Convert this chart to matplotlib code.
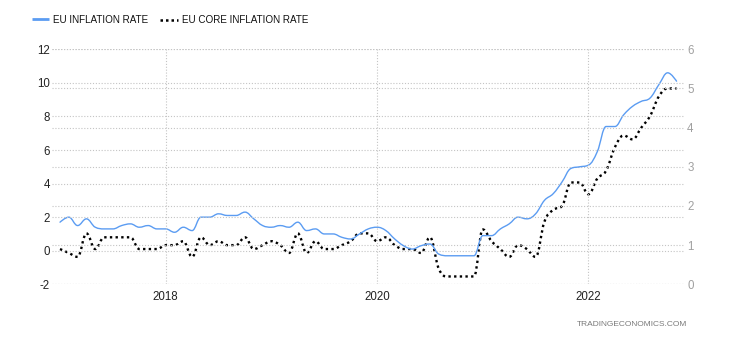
import numpy as np
import matplotlib
matplotlib.use("Agg")
import matplotlib.pyplot as plt
from matplotlib.path import Path
from matplotlib.patches import PathPatch
from matplotlib.lines import Line2D

# Monthly readings, January 2017 to November 2022 (annual rate, %)
start_year = 2017
inflation = [
    1.7, 2.0, 1.5, 1.9, 1.4, 1.3, 1.3, 1.5, 1.6, 1.4, 1.5, 1.3,
    1.3, 1.1, 1.4, 1.2, 2.0, 2.0, 2.2, 2.1, 2.1, 2.3, 1.9, 1.5,
    1.4, 1.5, 1.4, 1.7, 1.2, 1.3, 1.0, 1.0, 0.8, 0.7, 1.0, 1.3,
    1.4, 1.2, 0.7, 0.3, 0.1, 0.3, 0.4, -0.2, -0.3, -0.3, -0.3, -0.3,
    0.9, 0.9, 1.3, 1.6, 2.0, 1.9, 2.2, 3.0, 3.4, 4.1, 4.9, 5.0,
    5.1, 5.9, 7.4, 7.4, 8.1, 8.6, 8.9, 9.1, 9.9, 10.6, 10.1,
]
core_inflation = [
    0.9, 0.8, 0.7, 1.3, 0.9, 1.2, 1.2, 1.2, 1.2, 0.9, 0.9, 0.9,
    1.0, 1.0, 1.1, 0.7, 1.2, 1.0, 1.1, 1.0, 1.0, 1.2, 0.9, 1.0,
    1.1, 1.0, 0.8, 1.3, 0.8, 1.1, 0.9, 0.9, 1.0, 1.1, 1.3, 1.3,
    1.1, 1.2, 1.0, 0.9, 0.9, 0.8, 1.2, 0.4, 0.2, 0.2, 0.2, 0.2,
    1.4, 1.1, 0.9, 0.7, 1.0, 0.9, 0.7, 1.6, 1.9, 2.0, 2.6, 2.6,
    2.3, 2.7, 2.9, 3.5, 3.8, 3.7, 4.0, 4.3, 4.8, 5.0, 5.0,
]
year_ticks = [2018, 2020, 2022]
year_labels = ["2018", "2020", "2022"]
left_ticks = [-2, 0, 2, 4, 6, 8, 10, 12]
right_ticks = [0, 1, 2, 3, 4, 5, 6]

series_names = ["EU INFLATION RATE", "EU CORE INFLATION RATE"]
source_note = "TRADINGECONOMICS.COM"

BLUE = "#5b9cf2"
GRID = "#c4c4c4"
FONT = "Liberation Sans"


def spline_path(xs, ys, smoothing=1.5):
    """Smooth curve through the points using cubic Bezier segments
    whose control points never overshoot local extremes."""
    xs = np.asarray(xs, float)
    ys = np.asarray(ys, float)
    n = len(xs)
    left_c = [None] * n
    right_c = [None] * n
    denom = smoothing + 1
    for i in range(1, n - 1):
        lx, ly = xs[i - 1], ys[i - 1]
        px, py = xs[i], ys[i]
        nx, ny = xs[i + 1], ys[i + 1]
        lcx = (smoothing * px + lx) / denom
        lcy = (smoothing * py + ly) / denom
        rcx = (smoothing * px + nx) / denom
        rcy = (smoothing * py + ny) / denom
        corr = 0.0
        if rcx != lcx:
            corr = (rcy - lcy) * (rcx - px) / (rcx - lcx) + py - rcy
        lcy += corr
        rcy += corr
        if lcy > ly and lcy > py:
            lcy = max(ly, py)
            rcy = 2 * py - lcy
        elif lcy < ly and lcy < py:
            lcy = min(ly, py)
            rcy = 2 * py - lcy
        if rcy > ny and rcy > py:
            rcy = max(ny, py)
            lcy = 2 * py - rcy
        elif rcy < ny and rcy < py:
            rcy = min(ny, py)
            lcy = 2 * py - rcy
        left_c[i] = (lcx, lcy)
        right_c[i] = (rcx, rcy)
    verts = [(xs[0], ys[0])]
    codes = [Path.MOVETO]
    for i in range(1, n):
        c1 = right_c[i - 1] if right_c[i - 1] is not None else (xs[i - 1], ys[i - 1])
        c2 = left_c[i] if left_c[i] is not None else (xs[i], ys[i])
        verts += [c1, c2, (xs[i], ys[i])]
        codes += [Path.CURVE4] * 3
    return Path(verts, codes)


months_a = start_year + np.arange(len(inflation)) / 12.0
months_b = start_year + np.arange(len(core_inflation)) / 12.0

W, H = 730, 340
fig = plt.figure(figsize=(W / 100, H / 100), dpi=100)
left_px, right_px, top_px, bottom_px = 52, 685, 49.3, 284.3
ax = fig.add_axes([left_px / W, 1 - bottom_px / H,
                   (right_px - left_px) / W, (bottom_px - top_px) / H])
ax2 = ax.twinx()

# right axis (core) sits underneath, left axis (headline) on top
ax.set_zorder(ax2.get_zorder() + 1)
ax.patch.set_visible(False)

ax.set_xlim(start_year - 0.91 / 12, start_year + 70.96 / 12)
ax.set_ylim(-2, 12)
ax2.set_ylim(0, 6)

grid_style = dict(color=GRID, linewidth=0.8, linestyle=(0, (1, 1.6)))
ax.set_xticks(year_ticks)
ax.set_xticklabels(year_labels)
ax.set_yticks(left_ticks)
ax.set_yticklabels([str(v) for v in left_ticks])
ax2.set_yticks(right_ticks)
ax2.set_yticklabels([str(v) for v in right_ticks])
ax.grid(True, **grid_style)
ax2.grid(True, axis="y", **grid_style)
ax2.grid(False, axis="x")

for a in (ax, ax2):
    for s in a.spines.values():
        s.set_visible(False)
ax.tick_params(axis="both", length=0, labelsize=8.3, labelcolor="#222222")
ax.tick_params(axis="x", pad=5)
ax.tick_params(axis="y", pad=1.5)
ax2.tick_params(axis="y", length=0, labelsize=8.3, labelcolor="#a0a0a0", pad=1.5)
for lab in ax.get_xticklabels() + ax.get_yticklabels() + ax2.get_yticklabels():
    lab.set_fontfamily(FONT)

ax.add_patch(PathPatch(spline_path(months_a, inflation), fill=False,
                       edgecolor=BLUE, linewidth=1.0, capstyle="round",
                       joinstyle="round"))
ax2.add_patch(PathPatch(spline_path(months_b, core_inflation), fill=False,
                        edgecolor="black", linewidth=1.7,
                        linestyle=(0, (1, 1.4)), capstyle="butt"))

# legend along the top
def fx(px):
    return px / W


def fy(py):
    return 1 - py / H


fig.add_artist(Line2D([fx(32), fx(49)], [fy(19), fy(19)], color=BLUE,
                      linewidth=2.0, solid_capstyle="butt"))
fig.text(fx(53), fy(20), series_names[0], fontsize=7.1, family=FONT,
         color="#111111", va="center", ha="left")
fig.add_artist(Line2D([fx(160), fx(178)], [fy(19.5), fy(19.5)], color="black",
                      linewidth=1.8, linestyle=(0, (1, 1.2)),
                      dash_capstyle="butt"))
fig.text(fx(182), fy(20), series_names[1], fontsize=7.1, family=FONT,
         color="#111111", va="center", ha="left")

fig.text(fx(687), fy(325), source_note, fontsize=6.0, family=FONT,
         color="#7a7a7a", va="center", ha="right")

fig.savefig("out.png", dpi=100)
